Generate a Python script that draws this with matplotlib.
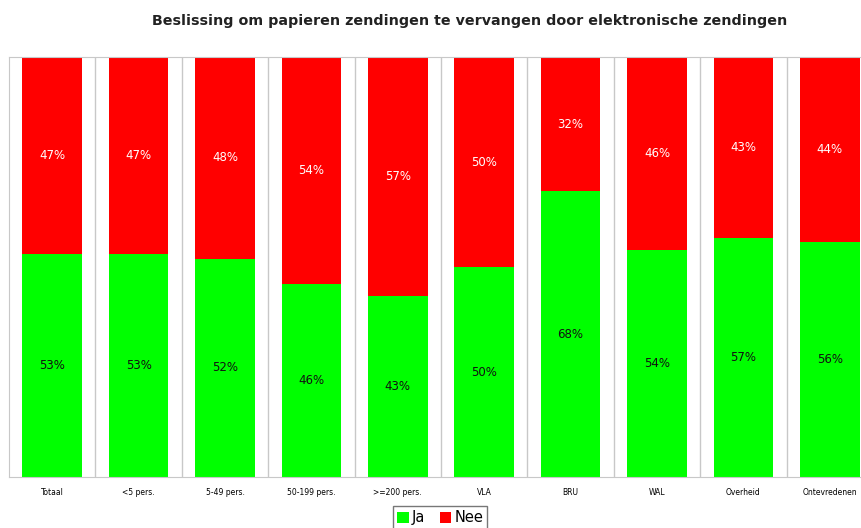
import numpy as np
import matplotlib.pyplot as plt

categories = ['Totaal', '<5 pers.', '5-49 pers.', '50-199 pers.', '>=200 pers.',
              'VLA', 'BRU', 'WAL', 'Overheid', 'Ontevredenen']
ja = [53, 53, 52, 46, 43, 50, 68, 54, 57, 56]
nee = [47, 47, 48, 54, 57, 50, 32, 46, 43, 44]

fig = plt.figure(figsize=(8.61, 5.28), dpi=100)
ax = fig.add_axes([9 / 861, 1 - 477 / 528, 864 / 861, 420 / 528])

x = np.arange(len(categories))
w = 0.69
ax.bar(x, ja, w, color='#00ff00', label='Ja')
ax.bar(x, nee, w, bottom=ja, color='#ff0000', label='Nee')

for i in range(len(categories)):
    ax.text(x[i], ja[i] / 2, f'{ja[i]}%', ha='center', va='center',
            fontsize=8.5, color='#111111')
    ax.text(x[i], ja[i] + nee[i] / 2, f'{nee[i]}%', ha='center', va='center',
            fontsize=8.5, color='white')

for b in np.arange(0.5, len(categories) - 1, 1):
    ax.axvline(b, color='#c8c8c8', lw=1)

ax.set_xlim(-0.5, len(categories) - 0.5)
ax.set_ylim(0, 100)
ax.set_yticks([])
ax.set_xticks(x)
ax.set_xticklabels(categories, fontsize=5.5)
ax.tick_params(axis='x', length=0, pad=8)
for s in ax.spines.values():
    s.set_color('#c8c8c8')

fig.text(470 / 861, 1 - 21 / 528, 'Beslissing om papieren zendingen te vervangen door elektronische zendingen',
         ha='center', va='center', fontsize=10.3, fontweight='bold', color='#222222')

fig.legend(loc='upper center', bbox_to_anchor=(440 / 861, 1 - 506 / 528), ncol=2,
           fontsize=10.5, frameon=True, fancybox=False, edgecolor='#555555',
           handlelength=0.8, handleheight=0.8, handletextpad=0.2, columnspacing=1.0,
           borderpad=0.3, borderaxespad=0)

fig.savefig('out.png', dpi=100)
